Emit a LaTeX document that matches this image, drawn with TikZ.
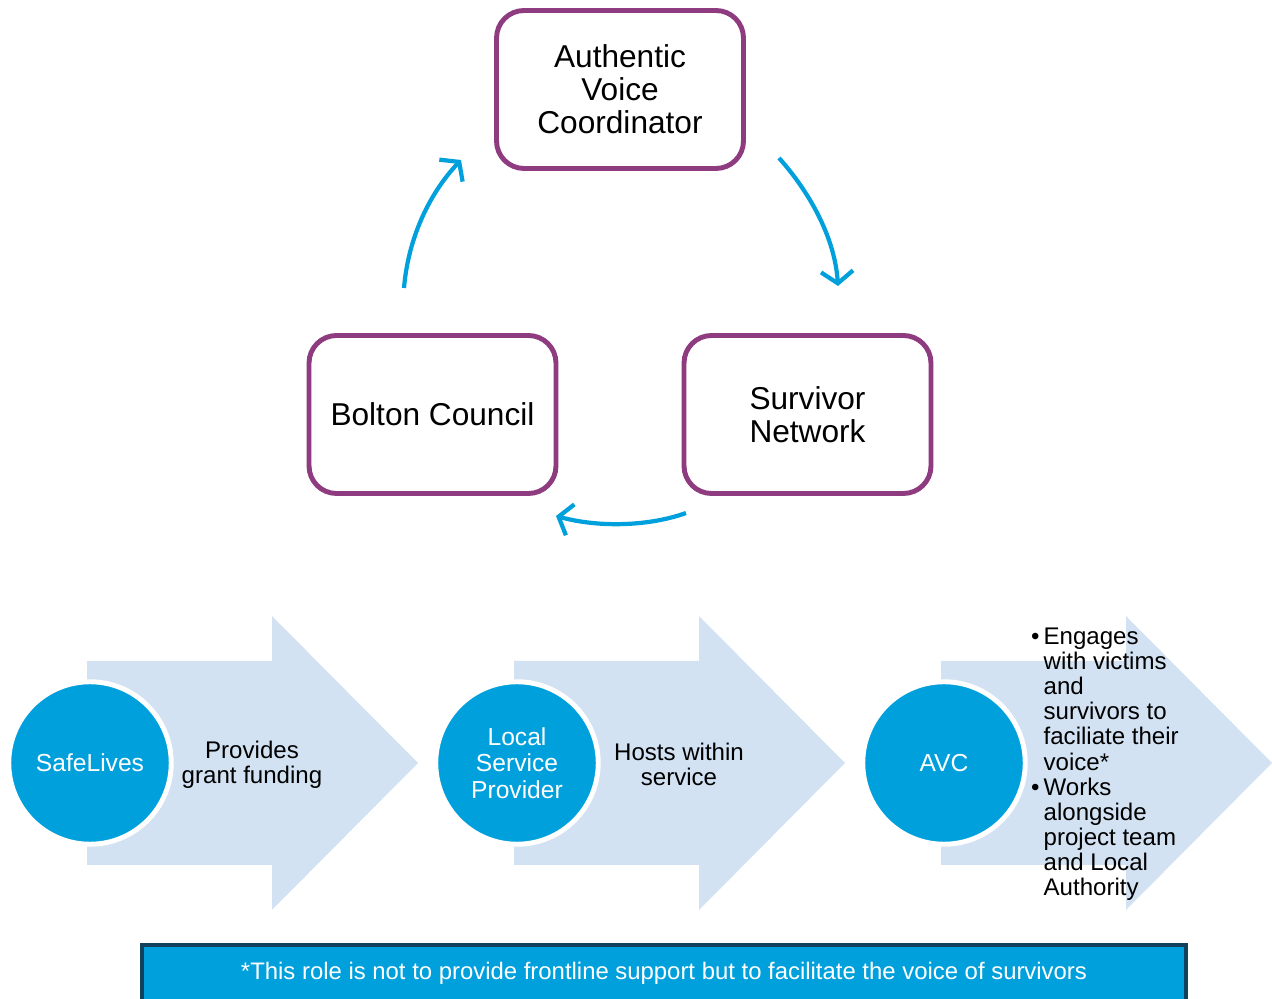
\documentclass[tikz,border=0pt]{standalone}
\usepackage{fontspec}
\setmainfont{Liberation Sans}
\usetikzlibrary{arrows.meta}
\definecolor{avcpurple}{HTML}{8E3B80}
\definecolor{avcblue}{HTML}{00A0DC}
\definecolor{avclight}{HTML}{D2E2F3}
\definecolor{avcnavy}{HTML}{12415E}
\begin{document}
\begin{tikzpicture}[x=0.02cm,y=-0.02cm]
\tikzstyle{role}=[draw=avcpurple, line width=2.8pt, rounded corners=0.55cm, fill=white, minimum width=4.94cm, minimum height=3.16cm, align=center, font=\fontsize{18}{18.8}\selectfont]
\tikzstyle{flowarrow}=[avcblue, line width=2.4pt, -{Straight Barb[length=2.4mm,width=6.4mm]}]
\tikzstyle{actor}=[circle, draw=white, line width=2.8pt, fill=avcblue, text=white, minimum size=3.25cm, align=center, font=\fontsize{14}{15}\selectfont]
\tikzstyle{task}=[align=center, font=\fontsize{13.7}{14.3}\selectfont]
\clip (0,0) rectangle (1272,999);
\node[role] (avc) at (620,89.5) {Authentic\\Voice\\Coordinator};
\node[role] (bolton) at (432.5,414.5) {Bolton Council};
\node[role] (survivor) at (807.5,414.5) {Survivor\\Network};
\coordinate (fromBolton) at (404,288);
\coordinate (toAvc) at (461,160);
\coordinate (fromAvc) at (779,158);
\coordinate (toSurvivor) at (838,286);
\coordinate (fromSurvivor) at (686,513);
\coordinate (toBolton) at (556,516);
\draw[flowarrow] (fromBolton) .. controls (408,240) and (428,195) .. (toAvc);
\draw[flowarrow] (fromAvc) .. controls (812,195) and (835,240) .. (toSurvivor);
\draw[flowarrow] (fromSurvivor) .. controls (650,526) and (600,528) .. (toBolton);
\foreach \s in {0,427,854}
	\fill[avclight] (87+\s,661) -- (272+\s,661) -- (272+\s,616) -- (418+\s,763) -- (272+\s,910) -- (272+\s,865) -- (87+\s,865) -- cycle;
\node[actor] (safelives) at (90,763) {SafeLives};
\node[actor] (provider) at (517,763) {Local\\Service\\Provider};
\node[actor] (avcrole) at (944,763) {AVC};
\node[task] (funding) at (252,765) {Provides\\grant funding};
\node[task] (hosting) at (679,764) {Hosts within\\service};
\node[task, anchor=west, align=left] (duties) at (1025,765) {\begin{tabular}{@{}l@{\,}l@{}}
	\textbullet & Engages\\ & with victims\\ & and\\ & survivors to\\ & faciliate their\\ & voice*\\
	\textbullet & Works\\ & alongside\\ & project team\\ & and Local\\ & Authority
\end{tabular}};
\node[draw=avcnavy, line width=2.3pt, fill=avcblue, minimum width=20.88cm, minimum height=1.6cm, anchor=north] (note) at (664,943) {};
\node[text=white, font=\fontsize{13.6}{15}\selectfont] (notetext) at (664,973) {*This role is not to provide frontline support but to facilitate the voice of survivors};
\end{tikzpicture}
\end{document}
